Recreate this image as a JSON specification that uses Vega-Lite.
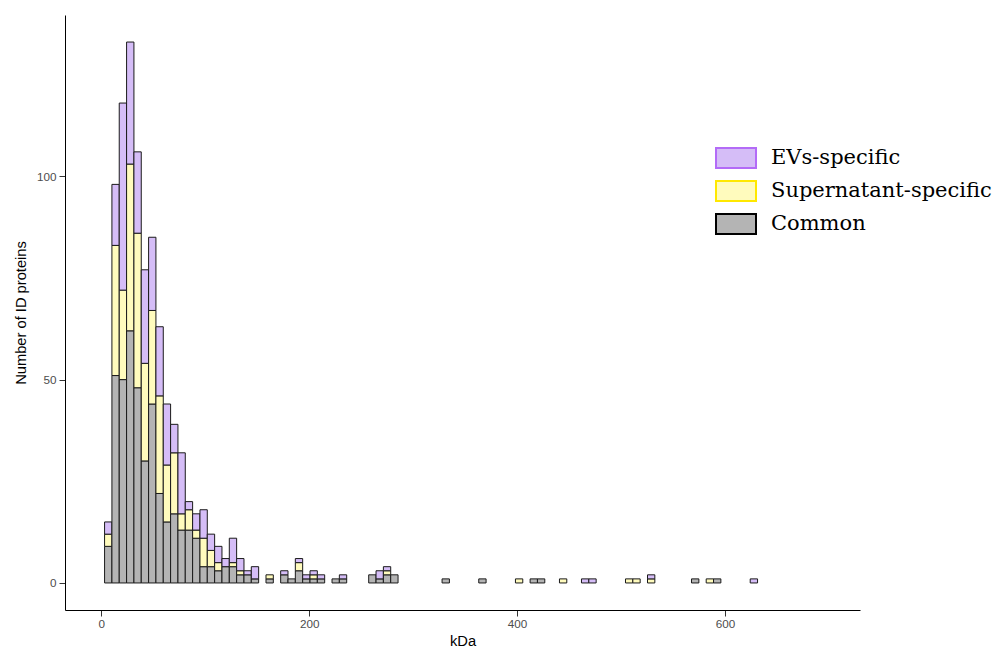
{
  "$schema": "https://vega.github.io/schema/vega-lite/v6.json",
  "width": 795,
  "height": 595,
  "autosize": {"type": "none"},
  "padding": {"left": 65, "top": 15, "right": 145, "bottom": 38},
  "background": "white",
  "config": {"view": {"stroke": null}, "font": "Liberation Sans"},
  "datasets": {
    "bins": [
      {"lo": 2.6, "hi": 9.66, "group": "Common", "n": 9},
      {"lo": 2.6, "hi": 9.66, "group": "Supernatant-specific", "n": 3},
      {"lo": 2.6, "hi": 9.66, "group": "EVs-specific", "n": 3},
      {"lo": 9.66, "hi": 16.72, "group": "Common", "n": 51},
      {"lo": 9.66, "hi": 16.72, "group": "Supernatant-specific", "n": 32},
      {"lo": 9.66, "hi": 16.72, "group": "EVs-specific", "n": 15},
      {"lo": 16.72, "hi": 23.78, "group": "Common", "n": 50},
      {"lo": 16.72, "hi": 23.78, "group": "Supernatant-specific", "n": 22},
      {"lo": 16.72, "hi": 23.78, "group": "EVs-specific", "n": 46},
      {"lo": 23.78, "hi": 30.84, "group": "Common", "n": 62},
      {"lo": 23.78, "hi": 30.84, "group": "Supernatant-specific", "n": 41},
      {"lo": 23.78, "hi": 30.84, "group": "EVs-specific", "n": 30},
      {"lo": 30.84, "hi": 37.9, "group": "Common", "n": 48},
      {"lo": 30.84, "hi": 37.9, "group": "Supernatant-specific", "n": 38},
      {"lo": 30.84, "hi": 37.9, "group": "EVs-specific", "n": 20},
      {"lo": 37.9, "hi": 44.96, "group": "Common", "n": 30},
      {"lo": 37.9, "hi": 44.96, "group": "Supernatant-specific", "n": 24},
      {"lo": 37.9, "hi": 44.96, "group": "EVs-specific", "n": 23},
      {"lo": 44.96, "hi": 52.02, "group": "Common", "n": 44},
      {"lo": 44.96, "hi": 52.02, "group": "Supernatant-specific", "n": 23},
      {"lo": 44.96, "hi": 52.02, "group": "EVs-specific", "n": 18},
      {"lo": 52.02, "hi": 59.08, "group": "Common", "n": 22},
      {"lo": 52.02, "hi": 59.08, "group": "Supernatant-specific", "n": 24},
      {"lo": 52.02, "hi": 59.08, "group": "EVs-specific", "n": 17},
      {"lo": 59.08, "hi": 66.14, "group": "Common", "n": 15},
      {"lo": 59.08, "hi": 66.14, "group": "Supernatant-specific", "n": 14},
      {"lo": 59.08, "hi": 66.14, "group": "EVs-specific", "n": 15},
      {"lo": 66.14, "hi": 73.2, "group": "Common", "n": 17},
      {"lo": 66.14, "hi": 73.2, "group": "Supernatant-specific", "n": 15},
      {"lo": 66.14, "hi": 73.2, "group": "EVs-specific", "n": 7},
      {"lo": 73.2, "hi": 80.26, "group": "Common", "n": 13},
      {"lo": 73.2, "hi": 80.26, "group": "Supernatant-specific", "n": 4},
      {"lo": 73.2, "hi": 80.26, "group": "EVs-specific", "n": 15},
      {"lo": 80.26, "hi": 87.32, "group": "Common", "n": 13},
      {"lo": 80.26, "hi": 87.32, "group": "Supernatant-specific", "n": 5},
      {"lo": 80.26, "hi": 87.32, "group": "EVs-specific", "n": 2},
      {"lo": 87.32, "hi": 94.38, "group": "Common", "n": 11},
      {"lo": 87.32, "hi": 94.38, "group": "Supernatant-specific", "n": 2},
      {"lo": 87.32, "hi": 94.38, "group": "EVs-specific", "n": 4},
      {"lo": 94.38, "hi": 101.44, "group": "Common", "n": 4},
      {"lo": 94.38, "hi": 101.44, "group": "Supernatant-specific", "n": 7},
      {"lo": 94.38, "hi": 101.44, "group": "EVs-specific", "n": 7},
      {"lo": 101.44, "hi": 108.5, "group": "Common", "n": 4},
      {"lo": 101.44, "hi": 108.5, "group": "Supernatant-specific", "n": 4},
      {"lo": 101.44, "hi": 108.5, "group": "EVs-specific", "n": 4},
      {"lo": 108.5, "hi": 115.56, "group": "Common", "n": 3},
      {"lo": 108.5, "hi": 115.56, "group": "Supernatant-specific", "n": 2},
      {"lo": 108.5, "hi": 115.56, "group": "EVs-specific", "n": 4},
      {"lo": 115.56, "hi": 122.62, "group": "Common", "n": 4},
      {"lo": 115.56, "hi": 122.62, "group": "EVs-specific", "n": 2},
      {"lo": 122.62, "hi": 129.68, "group": "Common", "n": 4},
      {"lo": 122.62, "hi": 129.68, "group": "Supernatant-specific", "n": 1},
      {"lo": 122.62, "hi": 129.68, "group": "EVs-specific", "n": 6},
      {"lo": 129.68, "hi": 136.74, "group": "Common", "n": 2},
      {"lo": 129.68, "hi": 136.74, "group": "Supernatant-specific", "n": 1},
      {"lo": 129.68, "hi": 136.74, "group": "EVs-specific", "n": 3},
      {"lo": 136.74, "hi": 143.8, "group": "Common", "n": 2},
      {"lo": 136.74, "hi": 143.8, "group": "EVs-specific", "n": 1},
      {"lo": 143.8, "hi": 150.86, "group": "Common", "n": 1},
      {"lo": 143.8, "hi": 150.86, "group": "EVs-specific", "n": 3},
      {"lo": 157.92, "hi": 164.98, "group": "Common", "n": 1},
      {"lo": 157.92, "hi": 164.98, "group": "Supernatant-specific", "n": 1},
      {"lo": 172.04, "hi": 179.1, "group": "Common", "n": 2},
      {"lo": 172.04, "hi": 179.1, "group": "EVs-specific", "n": 1},
      {"lo": 179.1, "hi": 186.16, "group": "Common", "n": 1},
      {"lo": 186.16, "hi": 193.22, "group": "Common", "n": 3},
      {"lo": 186.16, "hi": 193.22, "group": "Supernatant-specific", "n": 2},
      {"lo": 186.16, "hi": 193.22, "group": "EVs-specific", "n": 1},
      {"lo": 193.22, "hi": 200.28, "group": "Common", "n": 1},
      {"lo": 193.22, "hi": 200.28, "group": "EVs-specific", "n": 1},
      {"lo": 200.28, "hi": 207.34, "group": "Common", "n": 1},
      {"lo": 200.28, "hi": 207.34, "group": "Supernatant-specific", "n": 1},
      {"lo": 200.28, "hi": 207.34, "group": "EVs-specific", "n": 1},
      {"lo": 207.34, "hi": 214.4, "group": "Common", "n": 1},
      {"lo": 207.34, "hi": 214.4, "group": "EVs-specific", "n": 1},
      {"lo": 221.46, "hi": 228.52, "group": "Common", "n": 1},
      {"lo": 228.52, "hi": 235.58, "group": "Common", "n": 1},
      {"lo": 228.52, "hi": 235.58, "group": "EVs-specific", "n": 1},
      {"lo": 256.76, "hi": 263.82, "group": "Common", "n": 2},
      {"lo": 263.82, "hi": 270.88, "group": "Common", "n": 1},
      {"lo": 263.82, "hi": 270.88, "group": "EVs-specific", "n": 2},
      {"lo": 270.88, "hi": 277.94, "group": "Common", "n": 2},
      {"lo": 270.88, "hi": 277.94, "group": "Supernatant-specific", "n": 1},
      {"lo": 270.88, "hi": 277.94, "group": "EVs-specific", "n": 1},
      {"lo": 277.94, "hi": 285.0, "group": "Common", "n": 2},
      {"lo": 327.36, "hi": 334.42, "group": "Common", "n": 1},
      {"lo": 362.66, "hi": 369.72, "group": "Common", "n": 1},
      {"lo": 397.96, "hi": 405.02, "group": "Supernatant-specific", "n": 1},
      {"lo": 412.08, "hi": 419.14, "group": "Common", "n": 1},
      {"lo": 419.14, "hi": 426.2, "group": "Common", "n": 1},
      {"lo": 440.32, "hi": 447.38, "group": "Supernatant-specific", "n": 1},
      {"lo": 461.5, "hi": 468.56, "group": "EVs-specific", "n": 1},
      {"lo": 468.56, "hi": 475.62, "group": "EVs-specific", "n": 1},
      {"lo": 503.86, "hi": 510.92, "group": "Supernatant-specific", "n": 1},
      {"lo": 510.92, "hi": 517.98, "group": "Supernatant-specific", "n": 1},
      {"lo": 525.04, "hi": 532.1, "group": "Supernatant-specific", "n": 1},
      {"lo": 525.04, "hi": 532.1, "group": "EVs-specific", "n": 1},
      {"lo": 567.4, "hi": 574.46, "group": "Common", "n": 1},
      {"lo": 581.52, "hi": 588.58, "group": "Supernatant-specific", "n": 1},
      {"lo": 588.58, "hi": 595.64, "group": "Common", "n": 1},
      {"lo": 623.88, "hi": 630.94, "group": "EVs-specific", "n": 1}
    ]
  },
  "resolve": {"scale": {"color": "independent", "stroke": "independent"}},
  "layer": [
    {
      "data": {"name": "bins"},
      "transform": [
        {"calculate": "indexof(['Common','Supernatant-specific','EVs-specific'], datum.group)", "as": "stack_rank"}
      ],
      "mark": {"type": "bar", "stroke": "#1a1a1a", "strokeWidth": 1, "binSpacing": 0},
      "encoding": {
        "x": {
          "field": "lo", "type": "quantitative", "bin": "binned",
          "scale": {"domain": [-35, 730], "nice": false, "zero": false},
          "axis": {
            "values": [0, 200, 400, 600], "title": "kDa", "grid": false,
            "domainColor": "black", "domainWidth": 1, "tickColor": "#333333", "tickSize": 6,
            "labelColor": "#4d4d4d", "labelFontSize": 11.7, "labelPadding": 2, "labelFont": "Liberation Sans",
            "titleFont": "Liberation Sans", "titleFontSize": 14.7, "titleFontWeight": "normal", "titleColor": "black", "titlePadding": 4
          }
        },
        "x2": {"field": "hi"},
        "y": {
          "field": "n", "type": "quantitative", "stack": "zero",
          "scale": {"domain": [-6.65, 139.65], "nice": false, "zero": false},
          "axis": {
            "values": [0, 50, 100], "title": "Number of ID proteins", "grid": false,
            "domainColor": "black", "domainWidth": 1, "tickColor": "#333333", "tickSize": 6,
            "labelColor": "#4d4d4d", "labelFontSize": 11.7, "labelPadding": 3, "labelFont": "Liberation Sans",
            "titleFont": "Liberation Sans", "titleFontSize": 14.7, "titleFontWeight": "normal", "titleColor": "black", "titlePadding": 8
          }
        },
        "color": {
          "field": "group", "type": "nominal",
          "scale": {"domain": ["EVs-specific", "Supernatant-specific", "Common"], "range": ["#d5bdf7", "#fffbbd", "#b4b4b4"]},
          "legend": null
        },
        "order": {"field": "stack_rank", "type": "quantitative"}
      }
    },
    {
      "mark": {"type": "rule", "color": "#1a1a1a", "strokeWidth": 1},
      "encoding": {
        "x": {"datum": 2.6},
        "x2": {"datum": 694.48},
        "y": {"datum": 0}
      }
    },
    {
      "data": {"name": "bins"},
      "transform": [{"filter": "datum.n < 0"}],
      "mark": {"type": "bar", "strokeWidth": 2},
      "encoding": {
        "color": {
          "field": "group", "type": "nominal",
          "scale": {"domain": ["EVs-specific", "Supernatant-specific", "Common"], "range": ["#d5bdf7", "#fffbbd", "#b4b4b4"]},
          "legend": {
            "orient": "none", "legendX": 660, "legendY": 132, "title": null, "padding": 0,
            "symbolType": "M-2,-1H2V1H-2Z", "symbolSize": 400, "symbolStrokeWidth": 2, "symbolOpacity": 1,
            "labelFont": "DejaVu Serif", "labelFontSize": 21, "labelColor": "black", "labelOffset": 24, "labelLimit": 400, "rowPadding": 5
          }
        },
        "stroke": {
          "field": "group", "type": "nominal",
          "scale": {"domain": ["EVs-specific", "Supernatant-specific", "Common"], "range": ["#b36bf7", "#ffe800", "#000000"]},
          "legend": {
            "orient": "none", "legendX": 660, "legendY": 132, "title": null, "padding": 0,
            "symbolType": "M-2,-1H2V1H-2Z", "symbolSize": 400, "symbolStrokeWidth": 2, "symbolOpacity": 1,
            "labelFont": "DejaVu Serif", "labelFontSize": 21, "labelColor": "black", "labelOffset": 24, "labelLimit": 400, "rowPadding": 5
          }
        }
      }
    }
  ]
}
